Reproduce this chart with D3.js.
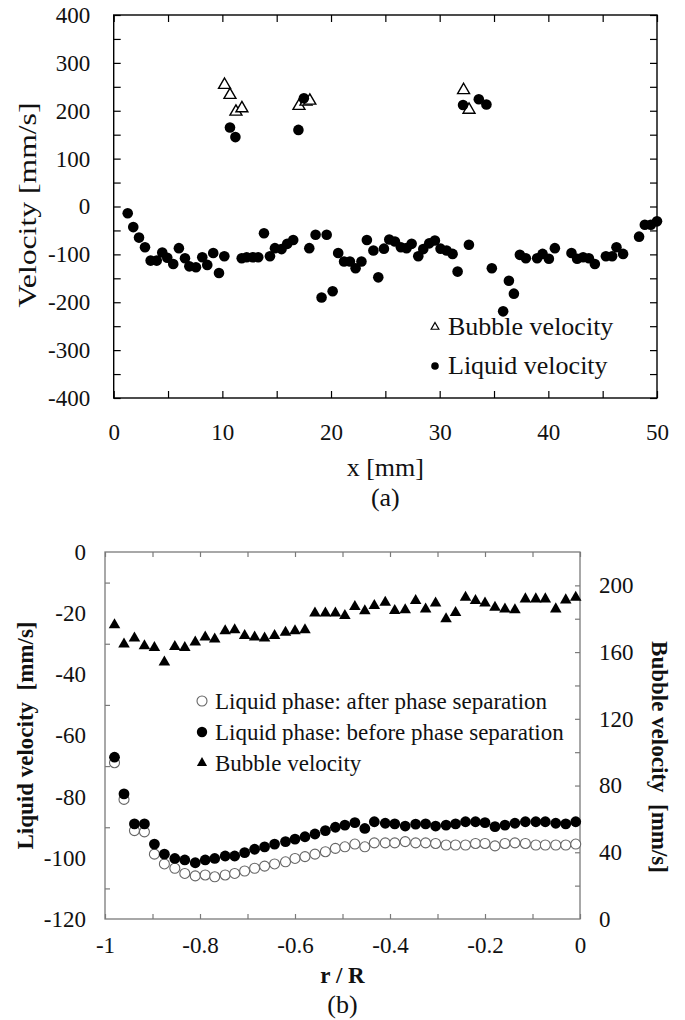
<!DOCTYPE html>
<html>
<head>
<meta charset="utf-8">
<script src="https://cdn.jsdelivr.net/npm/d3@7"></script>
<style>
  body { margin: 0; background: #fff; }
</style>
</head>
<body>
<svg id="chart" width="685" height="1020"></svg>
<script>
// ---- (a) velocity along x ----
const bubbleX = [10.2, 10.7, 11.25, 11.8, 17.05, 17.7, 18.05, 32.2, 32.7];
const bubbleV = [254, 233, 198, 205, 210, 219, 221, 243, 202];

const liquidX = [1.29, 1.8, 2.33, 2.88, 3.4, 3.96, 4.47, 4.93, 5.48, 6.0,
  6.56, 6.96, 7.57, 8.15, 8.61, 9.16, 9.69, 10.18, 10.7, 11.2,
  11.78, 12.24, 12.79, 13.3, 13.83, 14.38, 14.84, 15.45, 15.97, 16.52,
  17.0, 17.5, 18.0, 18.58, 19.13, 19.6, 20.15, 20.66, 21.2, 21.74,
  22.26, 22.8, 23.3, 23.9, 24.35, 24.87, 25.36, 25.88, 26.43, 26.95,
  27.42, 28.03, 28.49, 29.04, 29.56, 30.08, 30.64, 31.19, 31.65, 32.15,
  32.69, 33.6, 34.3, 34.8, 35.84, 36.37, 36.83, 37.38, 37.93, 38.97,
  39.47, 40.05, 40.6, 42.13, 42.65, 43.2, 43.73, 44.28, 45.3, 45.87,
  46.27, 46.88, 48.35, 48.88, 49.43, 50.0];
const liquidV = [-14, -43, -65, -85, -113, -113, -96, -107, -120, -87,
  -108, -125, -127, -106, -122, -97, -139, -104, 165, 145,
  -108, -106, -106, -106, -56, -104, -87, -89, -78, -70,
  160, 226, -87, -59, -190, -59, -177, -97, -115, -115,
  -129, -115, -70, -92, -148, -88, -69, -73, -85, -87,
  -78, -104, -89, -77, -71, -88, -92, -99, -136, 212,
  -80, 224, 213, -129, -219, -155, -182, -101, -108, -108,
  -99, -109, -87, -97, -109, -106, -108, -120, -104, -104,
  -85, -99, -63, -38, -38, -31];

const xTicksA = [0, 10, 20, 30, 40, 50];
const yTicksA = [-400, -300, -200, -100, 0, 100, 200, 300, 400];

// ---- (b) radial profiles ----
const rR = [-0.98, -0.96, -0.938, -0.917, -0.896, -0.875, -0.853, -0.832, -0.81, -0.789,
  -0.769, -0.747, -0.727, -0.706, -0.685, -0.664, -0.643, -0.62, -0.6, -0.579,
  -0.558, -0.536, -0.515, -0.495, -0.474, -0.453, -0.433, -0.41, -0.39, -0.368,
  -0.346, -0.325, -0.304, -0.282, -0.262, -0.241, -0.22, -0.2, -0.179, -0.158,
  -0.137, -0.115, -0.093, -0.073, -0.051, -0.03, -0.009];
const liquidAfter = [-68.9, -80.9, -91.1, -91.5, -98.8, -102.0, -103.4, -105.1, -105.9, -105.6,
  -106.2, -105.6, -105.1, -104.3, -103.4, -102.7, -102.0, -101.3, -100.2, -99.6,
  -98.8, -98.0, -96.9, -96.4, -95.5, -96.4, -95.1, -95.1, -95.1, -94.7,
  -95.1, -95.1, -95.3, -95.8, -95.8, -95.8, -95.3, -95.3, -96.1, -95.3,
  -95.1, -95.3, -95.8, -95.8, -95.8, -95.8, -95.5];
const liquidBefore = [-67.1, -79.1, -88.9, -88.9, -95.5, -98.8, -100.2, -100.7, -101.6, -100.7,
  -100.2, -99.4, -99.4, -98.3, -97.2, -96.4, -95.5, -94.7, -93.9, -93.1,
  -92.2, -91.1, -90.0, -89.3, -88.5, -90.4, -88.2, -88.7, -88.9, -89.6,
  -89.0, -88.9, -89.6, -89.3, -88.9, -88.2, -88.2, -88.5, -89.8, -89.3,
  -88.7, -88.2, -88.2, -88.2, -88.7, -88.9, -88.2];
const bubbleR = [176.3, 164.7, 168.3, 163.7, 162.6, 153.9, 163.2, 162.6, 165.9, 168.9,
  167.7, 172.7, 173.3, 169.9, 168.9, 168.3, 169.9, 171.8, 172.7, 173.3,
  183.3, 183.3, 183.3, 181.8, 187.2, 184.7, 187.8, 189.8, 184.8, 185.3,
  190.8, 185.7, 189.3, 179.9, 183.6, 192.8, 190.8, 189.3, 186.8, 185.7,
  185.3, 191.8, 191.8, 191.8, 185.8, 191.2, 192.8];

const xTicksB = [-1, -0.8, -0.6, -0.4, -0.2, 0];
const yTicksL = [-120, -100, -80, -60, -40, -20, 0];
const yTicksR = [0, 40, 80, 120, 160, 200];

const FONT = "'Liberation Serif', serif";
const svg = d3.select('#chart');
const tri = s => d3.symbol(d3.symbolTriangle, s)();

function styleLabels(g, size, weight) {
  g.select('.domain').remove();
  g.attr('font-family', null).attr('font-size', null);
  g.selectAll('text')
    .style('font-family', FONT).style('font-size', size + 'px')
    .attr('fill', '#111').attr('font-weight', weight || 'normal');
}
function innerTicks(g, colour) {
  g.select('.domain').remove();
  g.attr('color', colour);
  g.selectAll('line').attr('stroke-width', 1.2);
}
function label(parent, txt, size, bold) {
  return parent.append('text')
    .style('font-family', FONT).style('font-size', size + 'px')
    .style('font-weight', bold ? 'bold' : 'normal')
    .attr('fill', '#111')
    .text(txt);
}

// =============== chart (a) ===============
const xA = d3.scaleLinear().domain([0, 50]).range([113.7, 657]);
const yA = d3.scaleLinear().domain([-400, 400]).range([398, 15]);
const ga = svg.append('g');

ga.append('g').attr('transform', `translate(0,${yA(-400)})`)
  .call(d3.axisBottom(xA).tickValues(d3.range(0, 51, 5)).tickSize(-7).tickFormat(''))
  .call(innerTicks, '#000');
ga.append('g').attr('transform', `translate(0,${yA(400)})`)
  .call(d3.axisTop(xA).tickValues(d3.range(0, 51, 5)).tickSize(-7).tickFormat(''))
  .call(innerTicks, '#000');
ga.append('g').attr('transform', `translate(${xA(0)},0)`)
  .call(d3.axisLeft(yA).tickValues(d3.range(-400, 401, 50)).tickSize(-7).tickFormat(''))
  .call(innerTicks, '#000');
ga.append('g').attr('transform', `translate(${xA(50)},0)`)
  .call(d3.axisRight(yA).tickValues(d3.range(-400, 401, 50)).tickSize(-7).tickFormat(''))
  .call(innerTicks, '#000');

ga.append('rect')
  .attr('x', xA(0)).attr('y', yA(400))
  .attr('width', xA(50) - xA(0)).attr('height', yA(-400) - yA(400))
  .attr('fill', 'none').attr('stroke', '#000').attr('stroke-width', 1.4);

ga.append('g').attr('transform', `translate(0,${yA(-400)})`)
  .call(d3.axisBottom(xA).tickValues(xTicksA).tickSize(0).tickPadding(26).tickFormat(d => String(d)))
  .call(styleLabels, 23);
ga.append('g').attr('transform', `translate(${xA(0)},0)`)
  .call(d3.axisLeft(yA).tickValues(yTicksA).tickSize(0).tickPadding(23.5).tickFormat(d => String(d)))
  .call(styleLabels, 23);

label(ga, 'Velocity [mm/s]', 26)
  .attr('transform', 'translate(27,205) rotate(-90)')
  .attr('text-anchor', 'middle').attr('dy', '0.35em')
  .attr('textLength', 205).attr('lengthAdjust', 'spacingAndGlyphs');
label(ga, 'x [mm]', 26)
  .attr('x', (xA(0) + xA(50)) / 2).attr('y', 476).attr('text-anchor', 'middle');
label(ga, '(a)', 26)
  .attr('x', (xA(0) + xA(50)) / 2).attr('y', 506).attr('text-anchor', 'middle');

// bubbles first, liquid on top
ga.append('g').selectAll('path')
  .data(bubbleX.map((x, i) => [x, bubbleV[i]]))
  .join('path')
  .attr('d', tri(62))
  .attr('transform', d => `translate(${xA(d[0])},${yA(d[1])})`)
  .attr('fill', '#fff').attr('stroke', '#000').attr('stroke-width', 1.4);

ga.append('g').selectAll('circle')
  .data(liquidX.map((x, i) => [x, liquidV[i]]))
  .join('circle')
  .attr('cx', d => xA(d[0])).attr('cy', d => yA(d[1]))
  .attr('r', 5.3).attr('fill', '#000');

// legend (a)
const legA = ga.append('g');
legA.append('path').attr('d', tri(26))
  .attr('transform', 'translate(435,327)')
  .attr('fill', '#fff').attr('stroke', '#000').attr('stroke-width', 1.2);
legA.append('circle').attr('cx', 435).attr('cy', 366).attr('r', 3.8).attr('fill', '#000');
label(legA, 'Bubble velocity', 26).attr('x', 448).attr('y', 335);
label(legA, 'Liquid velocity', 26).attr('x', 448).attr('y', 374);

// =============== chart (b) ===============
const xB = d3.scaleLinear().domain([-1, 0]).range([105, 580]);
const yL = d3.scaleLinear().domain([-120, 0]).range([919, 552]);
const yR = d3.scaleLinear().domain([0, 220]).range([919, 552]);
const gb = svg.append('g');
const frameB = '#7a7a7a';

gb.append('g').attr('transform', `translate(0,${yL(-120)})`)
  .call(d3.axisBottom(xB).tickValues(d3.range(0, 11).map(i => -1 + i / 10)).tickSize(-5).tickFormat(''))
  .call(innerTicks, frameB);
gb.append('g').attr('transform', `translate(0,${yL(0)})`)
  .call(d3.axisTop(xB).tickValues(d3.range(0, 11).map(i => -1 + i / 10)).tickSize(-5).tickFormat(''))
  .call(innerTicks, frameB);
gb.append('g').attr('transform', `translate(${xB(-1)},0)`)
  .call(d3.axisLeft(yL).tickValues(d3.range(-110, 0, 20)).tickSize(-5).tickFormat(''))
  .call(innerTicks, frameB);
gb.append('g').attr('transform', `translate(${xB(0)},0)`)
  .call(d3.axisRight(yR).tickValues(d3.range(20, 220, 20)).tickSize(-5).tickFormat(''))
  .call(innerTicks, frameB);

gb.append('rect')
  .attr('x', xB(-1)).attr('y', yL(0))
  .attr('width', xB(0) - xB(-1)).attr('height', yL(-120) - yL(0))
  .attr('fill', 'none').attr('stroke', frameB).attr('stroke-width', 1.3);

const fmtB = d => d === 0 ? '0' : String(+d.toFixed(1));
gb.append('g').attr('transform', `translate(0,${yL(-120)})`)
  .call(d3.axisBottom(xB).tickValues(xTicksB).tickSize(0).tickPadding(18).tickFormat(fmtB))
  .call(styleLabels, 23);
gb.append('g').attr('transform', `translate(${xB(-1)},0)`)
  .call(d3.axisLeft(yL).tickValues(yTicksL).tickSize(0).tickPadding(19).tickFormat(d => String(d)))
  .call(styleLabels, 23);
gb.append('g').attr('transform', `translate(${xB(0)},0)`)
  .call(d3.axisRight(yR).tickValues(yTicksR).tickSize(0).tickPadding(19).tickFormat(d => String(d)))
  .call(styleLabels, 23);

label(gb, 'Liquid velocity\u00a0 [mm/s]', 23, true)
  .attr('transform', `translate(25,${(yL(0) + yL(-120)) / 2}) rotate(-90)`)
  .attr('text-anchor', 'middle').attr('dy', '0.35em');
label(gb, 'Bubble velocity\u00a0 [mm/s]', 23, true)
  .attr('transform', 'translate(660,757) rotate(90)')
  .attr('text-anchor', 'middle').attr('dy', '0.35em');
label(gb, 'r / R', 23, true)
  .attr('x', (xB(-1) + xB(0)) / 2).attr('y', 983).attr('text-anchor', 'middle');
label(gb, '(b)', 26)
  .attr('x', (xB(-1) + xB(0)) / 2).attr('y', 1013).attr('text-anchor', 'middle');

gb.append('g').selectAll('circle')
  .data(rR.map((r, i) => [r, liquidAfter[i]]))
  .join('circle')
  .attr('cx', d => xB(d[0])).attr('cy', d => yL(d[1]))
  .attr('r', 5).attr('fill', '#fff').attr('stroke', '#666').attr('stroke-width', 1.1);

gb.append('g').selectAll('circle')
  .data(rR.map((r, i) => [r, liquidBefore[i]]))
  .join('circle')
  .attr('cx', d => xB(d[0])).attr('cy', d => yL(d[1]))
  .attr('r', 5.4).attr('fill', '#000');

gb.append('g').selectAll('path')
  .data(rR.map((r, i) => [r, bubbleR[i]]))
  .join('path')
  .attr('d', tri(58))
  .attr('transform', d => `translate(${xB(d[0])},${yR(d[1])})`)
  .attr('fill', '#000');

// legend (b)
const legB = gb.append('g');
const legItems = ['Liquid phase: after phase separation', 'Liquid phase: before phase separation', 'Bubble velocity'];
legItems.forEach((txt, i) => {
  const y = 701 + i * 31;
  if (i === 0) {
    legB.append('circle').attr('cx', 202).attr('cy', y).attr('r', 5)
      .attr('fill', '#fff').attr('stroke', '#666').attr('stroke-width', 1.1);
  } else if (i === 1) {
    legB.append('circle').attr('cx', 202).attr('cy', y).attr('r', 5.2).attr('fill', '#000');
  } else {
    legB.append('path').attr('d', tri(45)).attr('transform', `translate(202,${y})`).attr('fill', '#000');
  }
  label(legB, txt, 23).attr('x', 215).attr('y', y + 7.5);
});
</script>
</body>
</html>
